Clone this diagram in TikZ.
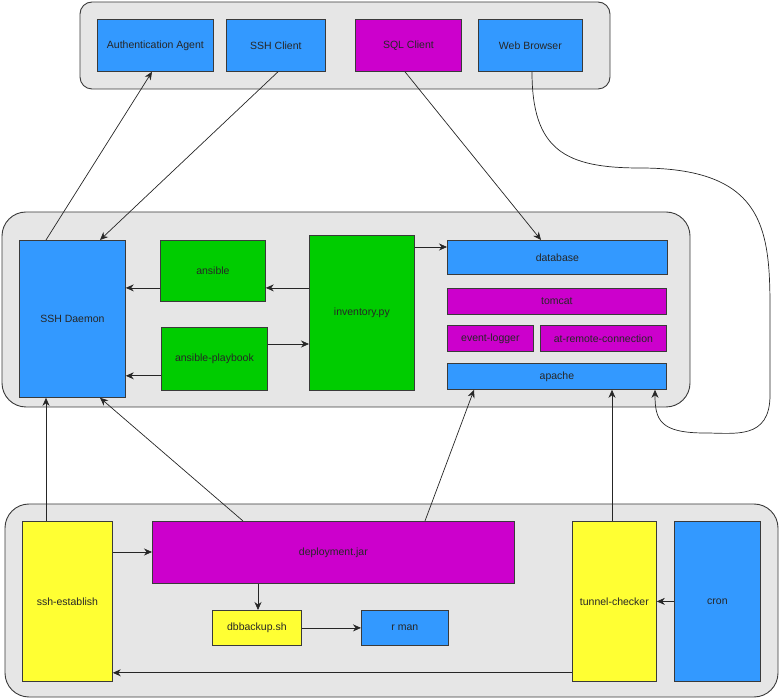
\documentclass[tikz,border=0pt]{standalone}
\usepackage{fontspec}
\setmainfont{Liberation Sans}
\usepackage{tikz}
\usetikzlibrary{arrows.meta, calc, positioning}
\definecolor{skyblue}{HTML}{3399FF}
\definecolor{purp}{HTML}{CC00CC}
\definecolor{leaf}{HTML}{00CC00}
\definecolor{lemon}{HTML}{FFFF33}
\definecolor{panel}{HTML}{E6E6E6}
\definecolor{edge}{HTML}{3A3A3A}
\begin{document}
\begin{tikzpicture}[x=1pt, y=-1pt,
  blk/.style={draw=edge, line width=0.8pt, inner sep=0pt, anchor=north west,
    font=\fontsize{10.5}{12}\selectfont, text=black!85},
  panelbox/.style={draw=edge, fill=panel, line width=0.9pt},
  arr/.style={-{Stealth[length=8pt,width=7pt]}, line width=0.7pt, draw=black!85}]
\useasboundingbox (0,0) rectangle (780,700);
\draw[panelbox, rounded corners=12pt] (80,2) rectangle (610,89);
\draw[panelbox, rounded corners=24pt] (2,212) rectangle (690,407);
\draw[panelbox, rounded corners=24pt] (5,504) rectangle (778,697);
\node[blk, fill=skyblue, minimum width=116pt, minimum height=52pt] (auth) at (97,19) {Authentication Agent};
\node[blk, fill=skyblue, minimum width=99pt, minimum height=52pt] (sshc) at (226,19) {SSH Client};
\node[blk, fill=purp, minimum width=106pt, minimum height=52pt] (sqlc) at (355,19) {SQL Client};
\node[blk, fill=skyblue, minimum width=104pt, minimum height=52pt] (web) at (478,19) {Web Browser};
\node[blk, fill=skyblue, minimum width=106pt, minimum height=157pt] (sshd) at (19,240) {SSH Daemon};
\node[blk, fill=leaf, minimum width=105pt, minimum height=61pt] (ans) at (160,240) {ansible};
\node[blk, fill=leaf, minimum width=106pt, minimum height=63pt] (play) at (161,327) {ansible-playbook};
\node[blk, fill=leaf, minimum width=105pt, minimum height=155pt] (inv) at (309,235) {inventory.py};
\node[blk, fill=skyblue, minimum width=220pt, minimum height=34pt] (db) at (447,240) {database};
\node[blk, fill=purp, minimum width=219pt, minimum height=26pt] (tomcat) at (447,288) {tomcat};
\node[blk, fill=purp, minimum width=86pt, minimum height=26pt] (evlog) at (447,325) {event-logger};
\node[blk, fill=purp, minimum width=126pt, minimum height=26pt] (remote) at (540,325) {at-remote-connection};
\node[blk, fill=skyblue, minimum width=219pt, minimum height=26pt] (apache) at (447,363) {apache};
\node[blk, fill=lemon, minimum width=90pt, minimum height=160pt] (sshest) at (22,521) {ssh-establish};
\node[blk, fill=purp, minimum width=362pt, minimum height=62pt] (deploy) at (152,521) {deployment.jar};
\node[blk, fill=lemon, minimum width=89pt, minimum height=35pt] (dbb) at (212,610) {dbbackup.sh};
\node[blk, fill=skyblue, minimum width=87pt, minimum height=35pt] (rman) at (361,610) {r man};
\node[blk, fill=lemon, minimum width=84pt, minimum height=160pt] (tunnel) at (572,521) {tunnel-checker};
\node[blk, fill=skyblue, minimum width=86pt, minimum height=160pt] (cron) at (674,521) {cron};
\coordinate (a1) at ([yshift=-17pt]ans.east);
\coordinate (p1) at ([yshift=-17pt]play.north east);
\coordinate (p2) at ([yshift=15pt]play.south west);
\coordinate (i1) at ([yshift=-12pt]inv.north east);
\coordinate (s1) at ([yshift=-31pt]sshest.north east);
\coordinate (t1) at ([yshift=9pt]tunnel.south west);
\coordinate (d1) at ([xshift=106pt]deploy.south west);
\draw[arr] ([xshift=27pt]sshd.north west) -- ([xshift=55pt]auth.south west);
\draw[arr] ([xshift=52pt]sshc.south west) -- ([xshift=81pt]sshd.north west);
\draw[arr] ([xshift=50pt]sqlc.south west) -- ([xshift=94pt]db.north west);
\draw[arr] ([xshift=54pt]web.south west) .. controls (532,150) and (565,168) .. (640,168)
  .. controls (775,168) and (770,240) .. (770,330) -- (770,395)
  .. controls (770,440) and (735,433) .. (705,433)
  .. controls (660,433) and (655,420) .. ([xshift=208pt]apache.south west);
\draw[arr] (a1 -| inv.west) -- (a1);
\draw[arr] (a1 -| ans.west) -- (a1 -| sshd.east);
\draw[arr] (p1) -- (p1 -| inv.west);
\draw[arr] (p2) -- (p2 -| sshd.east);
\draw[arr] (i1) -- (i1 -| db.west);
\draw[arr] ([xshift=24pt]sshest.north west) -- ([xshift=27pt]sshd.south west);
\draw[arr] ([xshift=91pt]deploy.north west) -- ([xshift=81pt]sshd.south west);
\draw[arr] ([xshift=273pt]deploy.north west) -- ([xshift=27pt]apache.south west);
\draw[arr] ([xshift=40pt]tunnel.north west) -- ([xshift=165pt]apache.south west);
\draw[arr] (s1) -- (s1 -| deploy.west);
\draw[arr] (d1) -- (d1 |- dbb.north);
\draw[arr] (dbb.east) -- (rman.west);
\draw[arr] (cron.west) -- (tunnel.east);
\draw[arr] (t1) -- (t1 -| sshest.east);
\end{tikzpicture}
\end{document}
